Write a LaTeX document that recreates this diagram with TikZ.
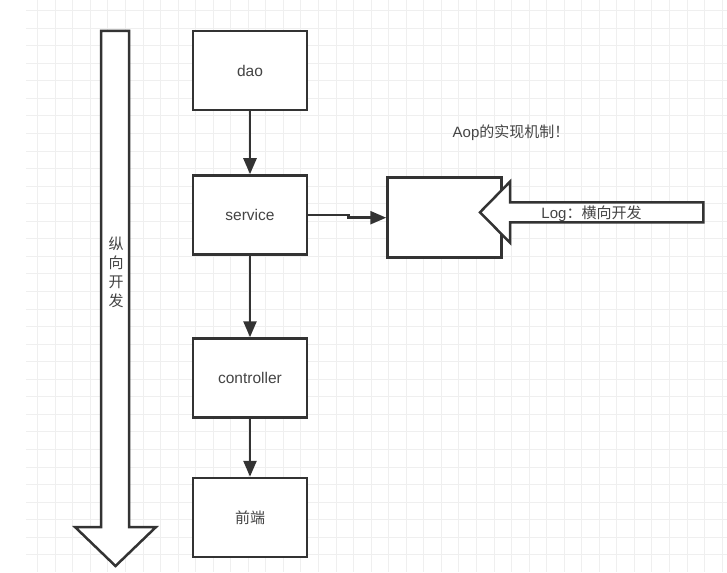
\documentclass[tikz,border=0pt]{standalone}
\usepackage{fontspec}
\setmainfont{Liberation Sans}
\newfontfamily\cjk{Noto Sans CJK SC}
\usetikzlibrary{arrows.meta,positioning}
\definecolor{linegray}{HTML}{333333}
\definecolor{textgray}{HTML}{444444}
\definecolor{gridgray}{HTML}{EFEFEF}

\begin{document}
\begin{tikzpicture}[x=1pt, y=-1pt,
    layer/.style={draw=linegray, line width=2.5pt, fill=white, minimum width=114pt, minimum height=79pt, text=textgray, font=\fontsize{15.5}{18}\selectfont},
    flow/.style={draw=linegray, line width=2.5pt, -{Triangle[length=16pt, width=13pt]}},
    blockarrow/.style={draw=linegray, line width=2.5pt, fill=white, line join=miter},
    label/.style={text=textgray, font=\fontsize{15}{18}\selectfont}]
    \useasboundingbox (0,0) rectangle (727,572);

    % Background grid
    \foreach \i in {0,...,39}
        \draw[gridgray, line width=1pt] ({37.7+17.55*\i},0) -- ({37.7+17.55*\i},572);
    \foreach \j in {0,...,31}
        \draw[gridgray, line width=1pt] (26,{10.7+17.55*\j}) -- (727,{10.7+17.55*\j});

    % Vertical development arrow
    \draw[blockarrow] (101,31) -- (129,31) -- (129,527) -- (156,527) -- (115.5,566)
        -- (75,527) -- (101,527) -- cycle;
    \node[label, align=center, font=\cjk\fontsize{15}{19}\selectfont] (vdev) at (116,272)
        {纵\\向\\开\\发};

    % Layers
    \node[layer] (dao) at (250,70.5) {dao};
    \node[layer] (service) at (250,215) {service};
    \node[layer] (controller) at (250,378) {controller};
    \node[layer, font=\cjk\fontsize{15}{18}\selectfont] (frontend) at (250,517.5) {前端};

    \draw[flow] (dao) -- (service);
    \draw[flow] (service) -- (controller);
    \draw[flow] (controller) -- (frontend);

    % Aspect box
    \node[layer, minimum height=80pt] (logbox) at (444.5,217.7) {};
    \draw[flow] (service.east) -- ++(40,0) |- (logbox.west);

    % Horizontal development arrow
    \draw[blockarrow] (703.3,202.3) -- (510,202.3) -- (510,181.7) -- (480,212.3)
        -- (510,242.7) -- (510,222.3) -- (703.3,222.3) -- cycle;
    \node[label] (logtext) at (591.5,213.5) {Log{\cjk ：横向开发}};

    % Title
    \node[label] (title) at (511,133) {Aop{\cjk 的实现机制！}};
\end{tikzpicture}
\end{document}
